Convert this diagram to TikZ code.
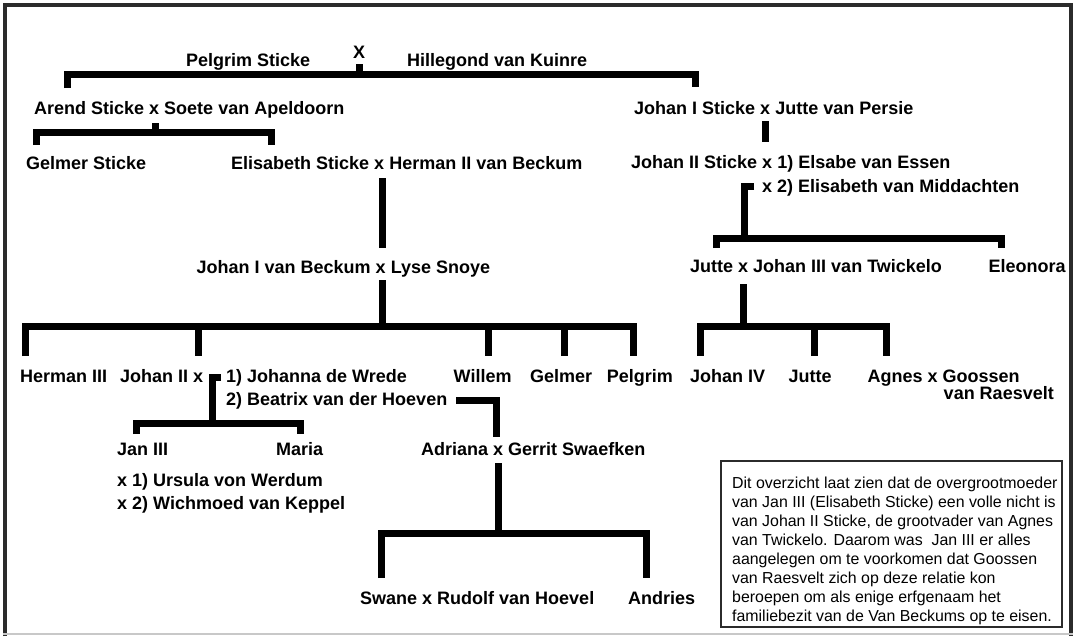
\documentclass[tikz,border=0pt]{standalone}
\usepackage{fontspec}
\setmainfont{Liberation Sans}
\definecolor{framec}{HTML}{2B2B2B}
\definecolor{botc}{HTML}{C8C8C8}
\tikzset{
  nm/.style={font=\fontsize{18}{21}\selectfont\bfseries, inner sep=0, anchor=base west, text=black},
  ln/.style={line width=7pt, line cap=butt, line join=miter, black},
}
\begin{document}
\begin{tikzpicture}[x=1pt,y=-1pt]
\useasboundingbox (0,0) rectangle (1076,638);
\fill[white] (0,0) rectangle (1076,638);
% frame
\draw[line width=4.5pt, framec] (5,636) -- (5,5) -- (1071,5) -- (1071,636);
\draw[line width=2pt, botc] (3,634) -- (1073,634);

% ---- generation 1
\node[nm] (pel) at (186,66) {Pelgrim Sticke};
\node[nm, anchor=base] (x0) at (359,58) {X};
\node[nm] (hil) at (407,66) {Hillegond van Kuinre};
\coordinate (t0) at (359,64);
\draw[ln] (67,88) -- (67,74) -- (695.5,74) -- (695.5,87);
\draw[ln] (359,74) -- (t0);

% ---- left branch
\node[nm] (are) at (34,114) {Arend Sticke x Soete van Apeldoorn};
\draw[ln] (36.5,145) -- (36.5,132.5) -- (271,132.5) -- (271,145);
\draw[ln] (155,132.5) -- (155,123);
\node[nm] (gel) at (26,169) {Gelmer Sticke};
\node[nm] (eli) at (231,169) {Elisabeth Sticke x Herman II van Beckum};
\draw[ln] (382,178) -- (382,248);
\node[nm] (jvb) at (196.5,273) {Johan I van Beckum x Lyse Snoye};
\draw[ln] (382,280) -- (382,326);
\draw[ln] (25,356) -- (25,326) -- (633,326) -- (633,356);
\foreach \xx in {198,488,564.5} \draw[ln] (\xx,326) -- (\xx,356);

\node[nm] (her) at (20,382.5) {Herman III};
\node[nm] (jo2) at (120,382.5) {Johan II x};
\node[nm] (joh) at (226,382.5) {1) Johanna de Wrede};
\node[nm] (bea) at (226,405) {2) Beatrix van der Hoeven};
\node[nm] (wil) at (453.5,382.5) {Willem};
\node[nm] (gel2) at (530,382.5) {Gelmer};
\node[nm] (pel2) at (606.7,382.5) {Pelgrim};

\draw[ln] (221,377.5) -- (212,377.5) -- (212,423);
\draw[ln] (136,434) -- (136,423) -- (300,423) -- (300,434);
\node[nm] (jan) at (117,455) {Jan III};
\node[nm] (mar) at (276,455) {Maria};
\node[nm] (urs) at (117,486) {x 1) Ursula von Werdum};
\node[nm] (wic) at (117,509) {x 2) Wichmoed van Keppel};

\draw[ln] (456,400.5) -- (496.5,400.5) -- (496.5,437);
\node[nm] (adr) at (421,455) {Adriana x Gerrit Swaefken};
\draw[ln] (498.5,463) -- (498.5,533);
\draw[ln] (381,578) -- (381,533) -- (646,533) -- (646,578);
\node[nm] (swa) at (360,604) {Swane x Rudolf van Hoevel};
\node[nm] (and) at (628,604) {Andries};

% ---- right branch
\node[nm] (js1) at (634,114) {Johan I Sticke x Jutte van Persie};
\draw[ln] (765,121) -- (765,142);
\node[nm] (js2) at (631,168) {Johan II Sticke x 1) Elsabe van Essen};
\node[nm] (mid) at (762,192) {x 2) Elisabeth van Middachten};
\draw[ln] (754,186) -- (744.5,186) -- (744.5,238);
\draw[ln] (716,248) -- (716,238) -- (1001.5,238) -- (1001.5,248);
\node[nm] (jut) at (690,272.5) {Jutte x Johan III van Twickelo};
\node[nm] (ele) at (988.5,272.5) {Eleonora};
\draw[ln] (743.5,284) -- (743.5,326);
\draw[ln] (700,355.5) -- (700,326) -- (886.5,326) -- (886.5,355.5);
\draw[ln] (814.5,326) -- (814.5,355.5);
\node[nm] (j4) at (690,382) {Johan IV};
\node[nm] (ju2) at (788.5,382) {Jutte};
\node[nm] (agn) at (867.5,382) {Agnes x Goossen};
\node[nm, anchor=base east] (rae) at (1054,399.5) {van Raesvelt};

% ---- note box
\draw[line width=2.5pt, framec] (721,461) rectangle (1062,627);
\node[inner sep=0, anchor=base west, font=\fontsize{15.9}{19}\selectfont] (note) at (732,488)
 {\vtop{\baselineskip=19pt
  \hbox{Dit overzicht laat zien dat de overgrootmoeder}
  \hbox{van Jan III (Elisabeth Sticke) een volle nicht is}
  \hbox{van Johan II Sticke, de grootvader van Agnes}
  \hbox{van Twickelo. Daarom was~ Jan III er alles}
  \hbox{aangelegen om te voorkomen dat Goossen}
  \hbox{van Raesvelt zich op deze relatie kon}
  \hbox{beroepen om als enige erfgenaam het}
  \hbox{familiebezit van de Van Beckums op te eisen.}}};
\end{tikzpicture}
\end{document}
